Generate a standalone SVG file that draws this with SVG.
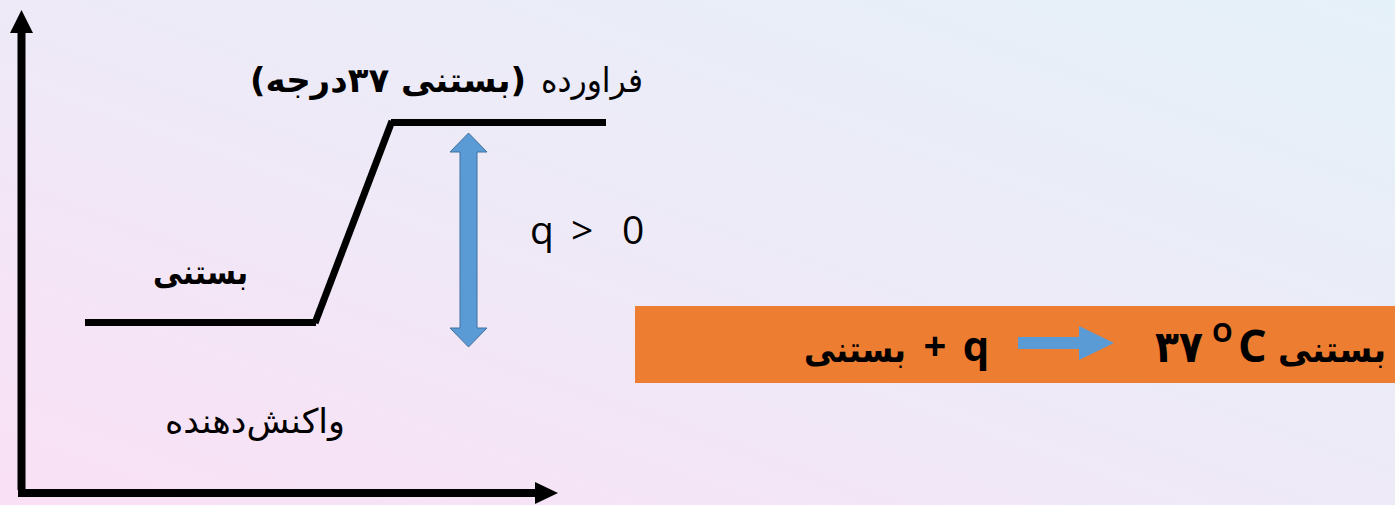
<svg xmlns="http://www.w3.org/2000/svg" width="1395" height="505" viewBox="0 0 1395 505">
  <defs>
    <linearGradient id="bg" x1="0" y1="1" x2="1" y2="0">
      <stop offset="0" stop-color="#fae0f5"/>
      <stop offset="0.5" stop-color="#eeeaf7"/>
      <stop offset="1" stop-color="#e5f1f9"/>
    </linearGradient>
    <style>
      .axis { stroke: #000; stroke-width: 8; fill: none; }
      .level { stroke: #000; stroke-width: 7; fill: none; }
      .head { fill: #000; }
      .fa { font-family: "DejaVu Sans", "Noto Sans", sans-serif; fill: #000; }
      .lat { font-family: "Open Sans", "Noto Sans", sans-serif; fill: #000; }
      .blue { fill: #5b9bd5; stroke: #41719c; stroke-width: 1; }
    </style>
  </defs>

  <rect width="1395" height="505" fill="url(#bg)"/>

  <!-- energy diagram axes -->
  <g id="axes">
    <line class="axis" x1="21.5" y1="30" x2="21.5" y2="490"/>
    <polygon class="head" points="21.5,10 33,33 10,33"/>
    <line class="axis" x1="18" y1="493" x2="537" y2="493"/>
    <polygon class="head" points="558,493 535,482 535,504"/>
  </g>

  <!-- energy levels -->
  <g id="connectors">
    <line class="level" x1="85" y1="322.5" x2="316" y2="322.5"/>
    <line class="level" x1="315" y1="323" x2="392" y2="121"/>
    <line class="level" x1="391" y1="122.5" x2="606" y2="122.5"/>
  </g>

  <g id="product-label">
    <text class="fa" x="643" y="92" font-size="34" text-anchor="end" textLength="102" lengthAdjust="spacingAndGlyphs">فراورده</text>
    <text class="fa" x="526" y="92" font-size="34" font-weight="bold" direction="rtl" text-anchor="start" textLength="276" lengthAdjust="spacingAndGlyphs">(بستنی ۳۷درجه)</text>
  </g>

  <g id="reactant-label">
    <text class="fa" x="248" y="284" font-size="34" font-weight="bold" text-anchor="end" textLength="95" lengthAdjust="spacingAndGlyphs">بستنی</text>
  </g>

  <g id="reactant-axis-label">
    <text class="fa" x="345" y="433" font-size="34" text-anchor="end" textLength="180" lengthAdjust="spacingAndGlyphs">واکنش‌دهنده</text>
  </g>

  <!-- heat difference -->
  <g id="q-arrow">
    <polygon class="blue" points="468.5,133 487,152 477,152 477,328 487,328 468.5,347 450,328 460,328 460,152 450,152"/>
  </g>

  <g id="q-label">
    <text class="lat" x="530" y="244" font-size="39">q</text>
    <text class="lat" x="571" y="244" font-size="39">&gt;</text>
    <text class="lat" x="622" y="244" font-size="39">0</text>
  </g>

  <!-- reaction equation -->
  <g id="equation">
    <rect x="635" y="306" width="760" height="77" fill="#ed7d31"/>
    <text class="fa" x="906" y="362" font-size="36" font-weight="bold" text-anchor="end" textLength="102" lengthAdjust="spacingAndGlyphs">بستنی</text>
    <text class="lat" x="935" y="360" font-size="40" font-weight="bold" text-anchor="middle">+</text>
    <text class="lat" x="976" y="361" font-size="42" font-weight="bold" text-anchor="middle">q</text>
    <polygon fill="#5b9bd5" points="1018,337 1079,337 1079,326 1114,343 1079,360 1079,349 1018,349"/>
    <text class="fa" x="1155" y="362" font-size="44" font-weight="bold" textLength="48" lengthAdjust="spacingAndGlyphs">۳۷</text>
    <text class="lat" x="1212" y="342" font-size="26" font-weight="bold">O</text>
    <text class="lat" x="1238" y="362" font-size="45" font-weight="bold">C</text>
    <text class="fa" x="1386" y="362" font-size="36" font-weight="bold" text-anchor="end" textLength="108" lengthAdjust="spacingAndGlyphs">بستنی</text>
  </g>
</svg>
